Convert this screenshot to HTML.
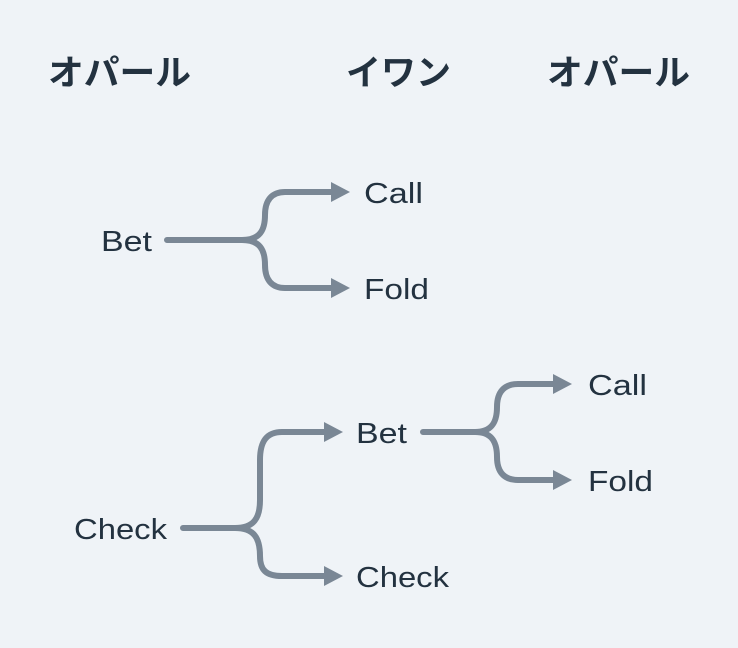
<!DOCTYPE html>
<html><head><meta charset="utf-8"><style>
body{margin:0;background:#eff3f7;}
svg{display:block}
.h{font-family:"Liberation Sans","Noto Sans CJK JP",sans-serif;font-weight:bold;font-size:35px;fill:#233240}
.l{font-family:"Liberation Sans","Noto Sans CJK JP",sans-serif;font-size:29px;fill:#233240}
.p{fill:none;stroke:#7a8795;stroke-width:6;stroke-linecap:round}
</style></head><body>
<svg width="738" height="648" viewBox="0 0 738 648">
<rect width="738" height="648" fill="#eff3f7"/>
<text class="h" x="48" y="85" textLength="143" lengthAdjust="spacingAndGlyphs">オパール</text>
<text class="h" x="346" y="85" textLength="105" lengthAdjust="spacingAndGlyphs">イワン</text>
<text class="h" x="547" y="85" textLength="143" lengthAdjust="spacingAndGlyphs">オパール</text>

<text class="l" x="101" y="251" textLength="51" lengthAdjust="spacingAndGlyphs">Bet</text>
<text class="l" x="364" y="203" textLength="59" lengthAdjust="spacingAndGlyphs">Call</text>
<text class="l" x="364" y="299" textLength="65" lengthAdjust="spacingAndGlyphs">Fold</text>
<text class="l" x="74" y="539" textLength="93" lengthAdjust="spacingAndGlyphs">Check</text>
<text class="l" x="356" y="443" textLength="51" lengthAdjust="spacingAndGlyphs">Bet</text>
<text class="l" x="356" y="587" textLength="93" lengthAdjust="spacingAndGlyphs">Check</text>
<text class="l" x="588" y="395" textLength="59" lengthAdjust="spacingAndGlyphs">Call</text>
<text class="l" x="588" y="491" textLength="65" lengthAdjust="spacingAndGlyphs">Fold</text>

<g class="p">
<path d="M167 240 H242 C260 240 265 230 265 215 C265 200 272 192 285 192 H334"/>
<path d="M242 240 C260 240 265 250 265 265 C265 280 272 288 285 288 H334"/>
<path d="M183 528 H235 C254 528 260 518 260 500 V460 C260 442 266 432 282 432 H326"/>
<path d="M235 528 C254 528 260 538 260 556 C260 570 266 576 282 576 H326"/>
<path d="M423 432 H475 C492 432 497 422 497 407 C497 392 504 384 518 384 H556"/>
<path d="M475 432 C492 432 497 442 497 457 C497 472 504 480 518 480 H556"/>
</g>
<g fill="#7a8795">
<polygon points="331,182 350,192 331,202"/>
<polygon points="331,278 350,288 331,298"/>
<polygon points="324,422 343,432 324,442"/>
<polygon points="324,566 343,576 324,586"/>
<polygon points="553,374 572,384 553,394"/>
<polygon points="553,470 572,480 553,490"/>
</g>
</svg>
</body></html>
